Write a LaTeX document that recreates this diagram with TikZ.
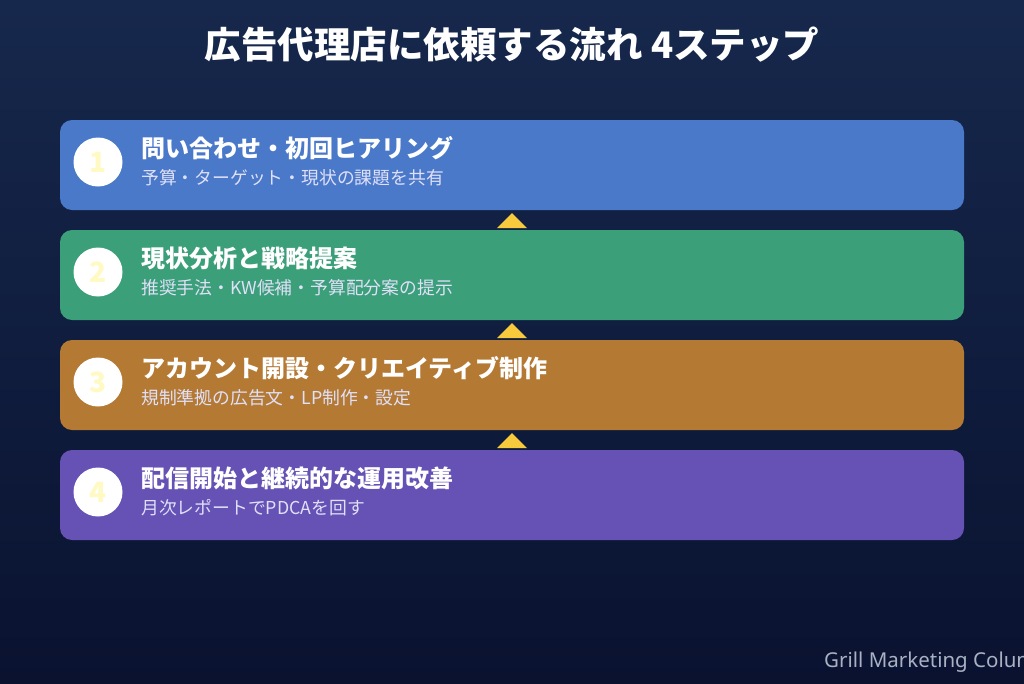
\documentclass[tikz,border=0pt]{standalone}
\usepackage{fontspec}
\setmainfont{Noto Sans CJK JP}
\newfontfamily\footfont{Noto Sans}
\usetikzlibrary{positioning}

\definecolor{bgtop}{HTML}{16284C}
\definecolor{bgbottom}{HTML}{0A1230}
\definecolor{stepblue}{HTML}{4A79C9}
\definecolor{stepgreen}{HTML}{3B9F79}
\definecolor{steporange}{HTML}{B47A34}
\definecolor{steppurple}{HTML}{6651B5}
\definecolor{numyellow}{HTML}{FFFAC4}
\definecolor{arrowgold}{HTML}{F6CA3C}
\definecolor{footgray}{HTML}{A9B1C2}

\begin{document}
\begin{tikzpicture}[x=1pt,y=-1pt]
\tikzset{
  stepbox/.style={rounded corners=12pt, minimum width=904pt, minimum height=90pt, inner sep=0pt},
  numdot/.style={circle, fill=white, minimum size=49pt, inner sep=0pt, text=numyellow, font=\bfseries\fontsize{28}{28}\selectfont},
  headtxt/.style={anchor=west, inner sep=0pt, text=white, font=\bfseries\fontsize{24}{24}\selectfont},
  subtxt/.style={anchor=west, inner sep=0pt, text=white!90!blue!95!gray, font=\fontsize{17.8}{18}\selectfont},
  tri/.style={fill=arrowgold}
}
\clip (0,0) rectangle (1024,683);
\shade [top color=bgtop, bottom color=bgbottom] (0,0) rectangle (1024,683);

% title
\node [text=white, font=\bfseries\fontsize{36.5}{36}\selectfont] (title) at (512,45) {広告代理店に依頼する流れ 4ステップ};

% step 1
\node [stepbox, fill=stepblue] (s1) at (512,165) {};
\node [numdot] (n1) at (98,162) {1};
\node [headtxt] (h1) at (141,148) {問い合わせ・初回ヒアリング};
\node [subtxt] (d1) at (141,178) {予算・ターゲット・現状の課題を共有};

% step 2
\node [stepbox, fill=stepgreen] (s2) at (512,275) {};
\node [numdot] (n2) at (98,272) {2};
\node [headtxt] (h2) at (141,258) {現状分析と戦略提案};
\node [subtxt] (d2) at (141,288) {推奨手法・KW候補・予算配分案の提示};

% step 3
\node [stepbox, fill=steporange] (s3) at (512,385) {};
\node [numdot] (n3) at (98,382) {3};
\node [headtxt] (h3) at (141,368) {アカウント開設・クリエイティブ制作};
\node [subtxt] (d3) at (141,398) {規制準拠の広告文・LP制作・設定};

% step 4
\node [stepbox, fill=steppurple] (s4) at (512,495) {};
\node [numdot] (n4) at (98,492) {4};
\node [headtxt] (h4) at (141,478) {配信開始と継続的な運用改善};
\node [subtxt] (d4) at (141,508) {月次レポートでPDCAを回す};

% arrows between steps
\path (s1.south) ++(0,3) coordinate (t1);
\path (s2.south) ++(0,3) coordinate (t2);
\path (s3.south) ++(0,3) coordinate (t3);
\fill [tri] (t1) -- ++(15,15) -- ++(-30,0) -- cycle;
\fill [tri] (t2) -- ++(15,15) -- ++(-30,0) -- cycle;
\fill [tri] (t3) -- ++(15,15) -- ++(-30,0) -- cycle;

% footer (cut off at the right edge, as in the original)
\node [anchor=west, inner sep=0pt, text=footgray, font=\footfont\fontsize{20.5}{20}\selectfont] (foot) at (824,662) {Grill Marketing Column};
\end{tikzpicture}
\end{document}
